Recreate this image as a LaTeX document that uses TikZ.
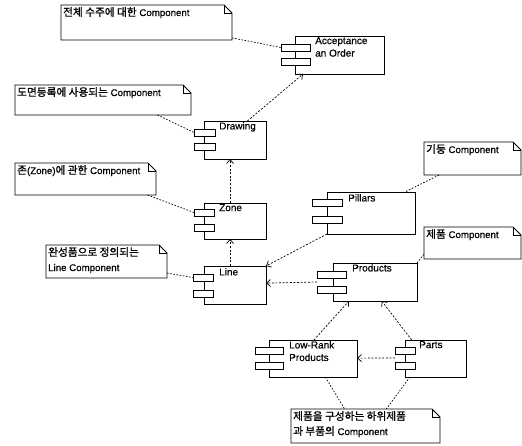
\documentclass[tikz,border=0pt]{standalone}
\usepackage{fontspec}
\setmainfont{Liberation Sans}[FakeBold=0.6]
\newfontfamily\krfont{Noto Sans CJK KR}[FakeBold=1.2, Scale=1.1]
\newcommand\kr[1]{{\krfont #1}}
\usetikzlibrary{arrows.meta,calc}

% UML component: body, two port rectangles
% #1 name, #2 x, #3 y, #4 width, #5 height, #6 port x offset, #7 port width, #8/#9 port y offsets
\newcommand\umlcomp[9]{%
  \node[compbody, minimum width=#4, minimum height=#5] (#1) at (#2,#3) {};
  \node[compport, minimum width=#7] (#1-a) at ($(#1.north west)+(#6,#8)$) {};
  \node[compport, minimum width=#7] (#1-b) at ($(#1.north west)+(#6,#9)$) {};
}
% UML note with folded corner: #1 name, #2 x, #3 y, #4 width, #5 height, #6 text
\newcommand\umlnote[6]{%
  \node[notebox, minimum width=#4, minimum height=#5] (#1) at (#2,#3) {};
  \draw[noteline] (#1.north west) -- ($(#1.north east)+(-8,0)$) -- ($(#1.north east)+(0,8)$)
     -- (#1.south east) -- (#1.south west) -- cycle;
  \draw[noteline] ($(#1.north east)+(-8,0)$) -- ($(#1.north east)+(-8,8)$) -- ($(#1.north east)+(0,8)$);
  \node[notetext] (#1-t) at ($(#1.north west)+(2,2)$) {#6};
}

\begin{document}
\begin{tikzpicture}[x=1pt, y=-1pt,
  compbody/.style={draw, line width=0.9pt, rectangle, inner sep=0pt, outer sep=0pt, anchor=north west},
  compport/.style={draw, fill=white, line width=0.9pt, rectangle, inner sep=0pt, outer sep=0pt,
                   minimum height=7, anchor=north west},
  complabel/.style={anchor=north west, inner sep=0pt, align=left,
                    font=\fontsize{10}{12.5}\selectfont},
  notebox/.style={rectangle, inner sep=0pt, outer sep=0pt, anchor=north west},
  noteline/.style={line width=0.9pt, line join=miter},
  notetext/.style={anchor=north west, inner sep=0pt, align=left,
                   font=\fontsize{9.7}{15}\selectfont},
  dep/.style={dash pattern=on 2pt off 1.6pt, line width=0.7pt,
              -{Straight Barb[length=4pt, width=7pt]}},
  link/.style={dash pattern=on 1.6pt off 1.6pt, line width=0.7pt}]

\useasboundingbox (0,0) rectangle (522,445);

% components
\umlcomp{acc}{295}{36}{89}{38}{-14}{29}{8}{22}
\node[complabel] (acc-t) at (315,37) {Acceptance\\an Order};
\umlcomp{drw}{204}{121}{62}{38}{-10}{21}{8}{22}
\node[complabel] (drw-t) at (219,122) {Drawing};
\umlcomp{zon}{204}{203}{62}{36}{-10}{20}{6}{21}
\node[complabel] (zon-t) at (219,204) {Zone};
\umlcomp{lin}{204}{266}{62}{38}{-11}{20}{8}{24}
\node[complabel] (lin-t) at (219,268) {Line};
\umlcomp{pil}{327}{192}{88}{42}{-15}{30}{7}{24}
\node[complabel] (pil-t) at (348,194) {Pillars};
\umlcomp{prd}{333}{263}{84}{38}{-16}{29}{8}{23}
\node[complabel] (prd-t) at (352,264) {Products};
\umlcomp{low}{269}{340}{88}{37}{-14}{28}{7}{22}
\node[complabel] (low-t) at (289,341) {Low-Rank\\Products};
\umlcomp{prt}{405}{340}{61}{37}{-10}{20}{7}{22}
\node[complabel] (prt-t) at (419,341) {Parts};

% notes
\umlnote{n1}{61}{5}{171}{35}{\kr{전체 수주에 대한} Component}
\umlnote{n2}{15}{85}{176}{30}{\kr{도면등록에 사용되는} Component}
\umlnote{n3}{15}{163}{141}{32}{\kr{존}(Zone)\kr{에 관한} Component}
\umlnote{n4}{46}{245}{121}{33}{\kr{완성품으로 정의되는}\\Line Component}
\umlnote{n5}{424}{142}{97}{33}{\kr{기둥} Component}
\umlnote{n6}{424}{227}{97}{32}{\kr{제품} Component}
\umlnote{n7}{291}{409}{149}{34}{\kr{제품을 구성하는 하위제품}\\\kr{과 부품의} Component}

% dependencies
\draw[dep] ($(drw.north west)!0.7!(drw.north east)$) -- ($(acc.south west)!0.09!(acc.south east)$);
\draw[dep] ($(zon.north west)!0.42!(zon.north east)$) -- ($(drw.south west)!0.42!(drw.south east)$);
\draw[dep] ($(lin.north west)!0.42!(lin.north east)$) -- ($(zon.south west)!0.42!(zon.south east)$);
\draw[dep] (pil.south west) -- (lin.north east);
\draw[dep] ($(prd-a.south west)!0.5!(prd-b.north west)$) -- ($(lin.north east)!0.45!(lin.south east)$);
\draw[dep] ($(low.north west)!0.51!(low.north east)$) -- ($(prd.south west)!0.19!(prd.south east)$);
\draw[dep] ($(prt.north west)!0.11!(prt.north east)$) -- ($(prd.south west)!0.58!(prd.south east)$);
\draw[dep] ($(prt-a.south west)!0.5!(prt-b.north west)$) -- ($(low.north east)!0.49!(low.south east)$);

% note attachments
\draw[link] ($(n1.north east)!0.94!(n1.south east)$) -- (acc-a.west);
\draw[link] ($(n2.south west)!0.81!(n2.south east)$) -- (drw-a.west);
\draw[link] ($(n3.south west)!0.94!(n3.south east)$) -- (zon-a.west);
\draw[link] ($(n4.north east)!0.85!(n4.south east)$) -- (lin-a.west);
\draw[link] ($(n5.south west)!0.155!(n5.south east)$) -- ($(pil.north west)!0.886!(pil.north east)$);
\draw[link] ($(n6.north west)!0.85!(n6.south west)$) -- (prd.north east);
\draw[link] ($(low.south west)!0.64!(low.south east)$) -- ($(n7.north west)!0.36!(n7.north east)$);
\draw[link] ($(prt.south west)!0.08!(prt.south east)$) -- ($(n7.north west)!0.64!(n7.north east)$);

\end{tikzpicture}
\end{document}
